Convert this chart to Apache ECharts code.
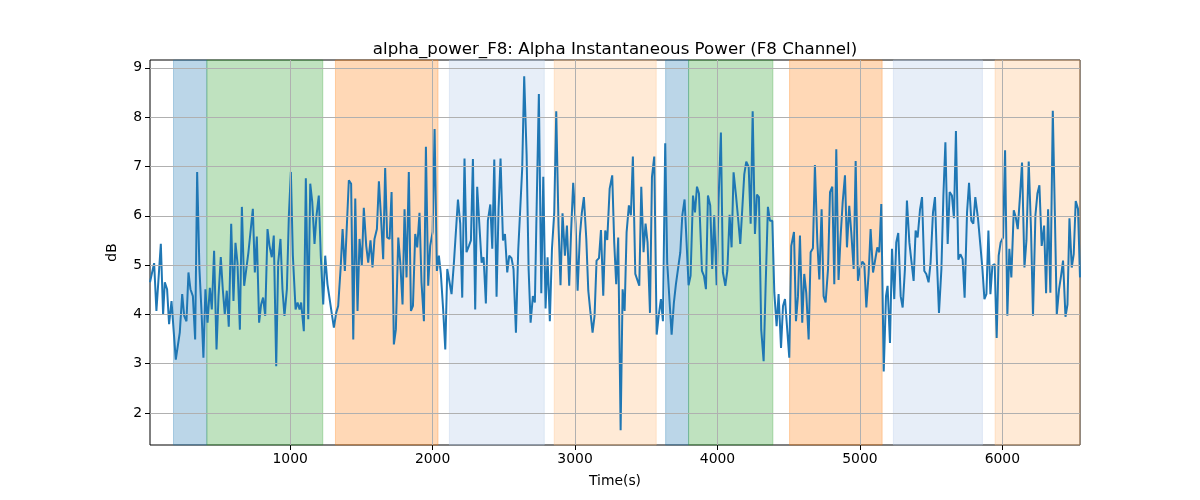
<!DOCTYPE html>
<html>
<head>
<meta charset="utf-8">
<script src="https://cdn.jsdelivr.net/npm/echarts@6/dist/echarts.min.js"></script>
<style>html,body{margin:0;padding:0;background:#fff}#c{width:1200px;height:500px}</style>
</head>
<body>
<div id="c"></div>
<script>
const titleText = 'alpha_power_F8: Alpha Instantaneous Power (F8 Channel)';
const xName = 'Time(s)';
const yName = 'dB';
const xTicks = [1000, 2000, 3000, 4000, 5000, 6000];
const yTicks = [2, 3, 4, 5, 6, 7, 8, 9];
const xRange = [16, 6545];
const yRange = [1.35, 9.16];

// shaded segments: [start, end, kind]
const bandStarts = [181, 415, 1318, 2118, 2854, 3636, 3797, 4506, 5235, 5949];
const bandEnds   = [415, 1229, 2038, 2784, 3570, 3797, 4389, 5156, 5860, 6545];
const bandKinds  = ['blue', 'green', 'orange', 'lightblue', 'lightorange', 'blue', 'green', 'orange', 'lightblue', 'lightorange'];

// [time (s), dB]
const samples = [
[16,4.65],[45,5.04],[61,4.07],[92,5.43],[108,4.00],[120,4.65],[136,4.51],[150,3.80],[167,4.27],[197,3.08],[225,3.63],[242,4.41],[256,3.97],[272,3.86],[286,4.85],[300,4.51],[317,4.37],[333,3.49],[347,6.89],[363,4.92],[377,4.10],[391,3.12],[405,4.51],[420,3.83],[436,4.54],[450,4.10],[466,5.29],[483,3.29],[497,4.37],[513,5.16],[527,4.51],[541,4.00],[555,4.48],[569,3.75],[586,5.84],[602,4.27],[616,5.45],[630,5.05],[647,3.69],[661,6.18],
[677,4.58],[707,5.26],[738,6.14],[752,4.85],[766,5.58],[782,3.83],[796,4.20],[810,4.34],[825,3.97],[841,5.73],[855,5.39],[871,5.16],[885,5.60],[902,2.95],[916,5.05],[932,5.53],[946,4.51],[960,3.97],[977,4.51],[991,6.01],[1005,6.89],[1019,5.19],[1038,4.10],[1052,4.24],[1066,4.10],[1077,4.24],[1096,3.66],[1110,6.76],[1127,3.90],[1141,6.65],[1155,6.28],[1171,5.43],[1185,6.01],[1201,6.41],[1215,5.19],[1232,4.20],[1246,5.19],[1262,4.61],[1276,4.58],[1293,4.00],
[1307,3.73],[1323,4.03],[1337,4.17],[1354,4.92],[1368,5.73],[1384,4.88],[1398,4.85],[1412,6.72],[1428,6.65],[1443,3.49],[1457,6.35],[1473,4.07],[1487,5.53],[1503,4.99],[1517,6.16],[1534,5.39],[1548,5.05],[1564,5.50],[1578,4.95],[1592,5.53],[1609,5.73],[1623,6.70],[1637,6.01],[1653,5.12],[1667,6.97],[1681,5.56],[1698,5.53],[1712,6.48],[1728,3.39],[1742,3.69],[1759,5.56],[1773,5.05],[1789,4.20],[1803,6.13],[1817,4.75],[1833,6.89],[1848,4.07],[1862,4.17],[1878,5.63],[1892,5.36],[1908,6.06],[1922,4.65],[1939,3.86],
[1953,7.40],[1969,4.58],[1983,5.39],[2000,5.67],[2014,7.76],[2030,4.88],[2044,5.19],[2058,4.82],[2074,4.10],[2089,3.29],[2103,4.92],[2119,4.65],[2133,4.41],[2149,5.02],[2163,4.99],[2178,6.33],[2194,5.84],[2208,4.34],[2224,7.16],[2238,5.26],[2255,5.39],[2269,5.50],[2283,7.15],[2299,4.10],[2313,6.59],[2330,5.73],[2344,5.05],[2358,5.16],[2374,4.22],[2388,5.90],[2405,6.23],[2419,5.33],[2433,7.14],[2449,4.36],[2463,6.14],[2477,7.16],[2494,5.50],[2508,5.63],[2524,4.85],[2538,5.19],[2554,5.14],[2568,4.92],[2585,3.63],
[2601,5.29],[2615,5.29],[2629,6.96],[2643,8.83],[2660,7.23],[2674,4.92],[2688,3.83],[2704,4.37],[2718,4.24],[2732,6.41],[2746,8.47],[2763,4.43],[2777,6.79],[2793,4.12],[2807,5.16],[2823,3.86],[2838,5.33],[2854,6.07],[2868,8.12],[2884,5.80],[2898,4.59],[2912,6.05],[2929,5.19],[2943,5.80],[2959,4.58],[2973,5.73],[2987,6.67],[3004,5.84],[3018,4.48],[3034,5.60],[3048,6.07],[3062,6.38],[3079,5.53],[3093,4.48],[3107,4.07],[3123,3.63],[3137,3.97],[3151,5.09],[3168,5.14],[3182,5.71],[3198,4.38],[3212,5.70],[3226,5.51],[3243,6.55],
[3261,6.82],[3275,5.46],[3289,4.61],[3303,5.56],[3320,1.65],[3334,4.51],[3348,4.07],[3362,5.67],[3378,6.21],[3392,6.01],[3406,7.20],[3423,4.82],[3437,4.78],[3451,4.58],[3465,6.59],[3481,5.26],[3495,5.84],[3509,5.46],[3526,4.03],[3540,6.79],[3556,7.20],[3573,3.59],[3587,3.97],[3603,4.31],[3617,3.86],[3633,7.47],[3647,5.05],[3664,4.24],[3678,3.59],[3694,4.24],[3708,4.61],[3722,4.61],[3739,5.26],[3753,6.01],[3769,6.33],[3783,5.46],[3797,4.59],[3811,4.78],[3828,6.41],[3842,6.07],[3856,6.59],[3870,6.45],
[3891,4.88],[3905,4.78],[3919,4.51],[3933,6.41],[3949,6.21],[3963,4.92],[3977,6.01],[3994,4.59],[4008,6.35],[4024,7.69],[4038,4.85],[4055,4.58],[4069,4.88],[4085,6.02],[4099,5.36],[4113,6.88],[4130,6.41],[4144,5.97],[4160,5.43],[4174,5.39],[4188,6.84],[4202,7.10],[4219,6.99],[4233,5.84],[4247,8.12],[4263,5.63],[4277,6.43],[4291,6.38],[4307,3.69],[4324,3.05],[4338,4.58],[4354,6.18],[4368,5.90],[4385,5.90],[4399,4.44],[4415,3.76],[4429,4.41],[4446,3.32],[4460,4.17],[4474,4.31],[4488,4.34],[4504,3.12],[4518,5.39],
[4537,5.67],[4551,3.86],[4565,4.37],[4579,5.60],[4595,3.83],[4609,4.82],[4623,4.44],[4640,3.49],[4654,5.26],[4670,5.34],[4684,7.03],[4701,5.46],[4715,4.71],[4731,6.13],[4745,4.37],[4759,4.24],[4776,4.92],[4790,6.48],[4806,6.59],[4820,4.61],[4834,7.35],[4850,4.70],[4864,5.56],[4879,6.28],[4895,6.82],[4909,5.36],[4925,6.20],[4939,5.67],[4956,4.92],[4970,7.11],[4986,4.68],[5000,4.92],[5017,5.07],[5031,5.02],[5045,4.14],[5061,4.82],[5075,5.73],[5092,4.85],[5106,4.82],[5122,5.36],[5136,5.26],[5150,6.24],[5167,2.84],
[5183,4.37],[5194,4.58],[5211,3.42],[5225,5.33],[5241,4.31],[5255,5.46],[5269,5.65],[5286,4.37],[5300,4.14],[5316,4.92],[5330,6.31],[5347,5.46],[5361,5.09],[5377,4.68],[5391,5.70],[5405,5.56],[5422,6.13],[5436,6.38],[5452,4.88],[5466,4.82],[5482,4.65],[5496,5.05],[5513,6.07],[5527,6.38],[5541,5.05],[5555,4.03],[5572,4.92],[5586,6.41],[5600,7.49],[5616,5.43],[5630,6.48],[5646,6.41],[5660,5.95],[5674,7.72],[5691,5.11],[5705,5.22],[5721,5.12],[5735,4.34],[5752,6.07],[5766,6.67],[5782,5.90],[5796,5.84],[5810,6.38],
[5829,5.94],[5846,5.39],[5860,4.92],[5874,4.31],[5888,4.41],[5902,5.70],[5916,4.41],[5930,4.99],[5946,5.02],[5960,3.52],[5974,5.19],[5988,5.46],[6005,5.56],[6019,7.33],[6035,3.97],[6049,5.33],[6063,4.75],[6080,6.11],[6094,5.97],[6108,5.73],[6124,6.41],[6138,7.08],[6155,4.95],[6169,5.50],[6185,7.10],[6201,5.73],[6215,3.97],[6232,6.01],[6246,6.45],[6260,6.62],[6276,5.39],[6293,5.80],[6307,4.43],[6321,6.13],[6337,4.44],[6354,8.13],[6368,6.11],[6382,4.00],[6398,4.51],[6412,4.78],[6426,5.09],[6443,3.95],[6457,4.20],[6471,5.95],[6487,4.95],[6501,5.22],[6515,6.30],[6531,6.14],[6545,4.75]
];

const kindColor = {
  blue: 'rgba(31,119,180,0.3)',
  green: 'rgba(44,160,44,0.3)',
  orange: 'rgba(255,127,14,0.3)',
  lightblue: 'rgba(174,199,232,0.3)',
  lightorange: 'rgba(255,187,120,0.3)'
};

const FONT = 'DejaVu Sans';
const chart = echarts.init(document.getElementById('c'), null, {renderer: 'canvas'});

const areaData = bandStarts.map((s, i) => [
  {xAxis: s, itemStyle: {color: kindColor[bandKinds[i]], borderColor: kindColor[bandKinds[i]], borderWidth: 1}},
  {xAxis: bandEnds[i]}
]);

const gridLineStyle = {color: '#b0b0b0', width: 1, type: 'solid'};

chart.setOption({
  animation: false,
  backgroundColor: '#fff',
  title: {
    text: titleText,
    left: 610,
    top: 36,
    textAlign: 'center',
    textStyle: {fontFamily: FONT, fontSize: 16.67, fontWeight: 'normal', color: '#000'}
  },
  grid: {
    left: 150, right: 120, top: 60, bottom: 55,
    show: true, borderColor: '#000', borderWidth: 1, backgroundColor: 'transparent'
  },
  xAxis: {
    type: 'value',
    min: xRange[0], max: xRange[1],
    name: xName, nameLocation: 'middle', nameGap: 29,
    nameTextStyle: {fontFamily: FONT, fontSize: 13.9, color: '#000'},
    axisLine: {show: false},
    splitLine: {show: false},
    axisTick: {show: true, inside: false, length: 5, customValues: xTicks, lineStyle: {color: '#000', width: 1}},
    axisLabel: {show: true, customValues: xTicks, margin: 7, fontFamily: FONT, fontSize: 13.9, color: '#000', formatter: v => String(v)}
  },
  yAxis: {
    type: 'value',
    min: yRange[0], max: yRange[1],
    name: yName, nameLocation: 'middle', nameGap: 31,
    nameTextStyle: {fontFamily: FONT, fontSize: 13.9, color: '#000'},
    axisLine: {show: false},
    splitLine: {show: false},
    axisTick: {show: true, inside: false, length: 5, customValues: yTicks, lineStyle: {color: '#000', width: 1}},
    axisLabel: {show: true, customValues: yTicks, margin: 8, fontFamily: FONT, fontSize: 13.9, color: '#000', formatter: v => String(v)}
  },
  series: [
    {
      type: 'line', data: [], silent: true, z: 1,
      markArea: {silent: true, data: areaData}
    },
    {
      type: 'line', data: [], silent: true, z: 2,
      markLine: {
        silent: true, symbol: ['none', 'none'], label: {show: false},
        lineStyle: gridLineStyle,
        data: xTicks.map(v => ({xAxis: v})).concat(yTicks.map(v => ({yAxis: v})))
      }
    },
    {
      type: 'line', data: samples, z: 3,
      showSymbol: false, symbol: 'none',
      lineStyle: {color: '#1f77b4', width: 2},
      itemStyle: {color: '#1f77b4'}
    }
  ]
});
</script>
</body>
</html>
